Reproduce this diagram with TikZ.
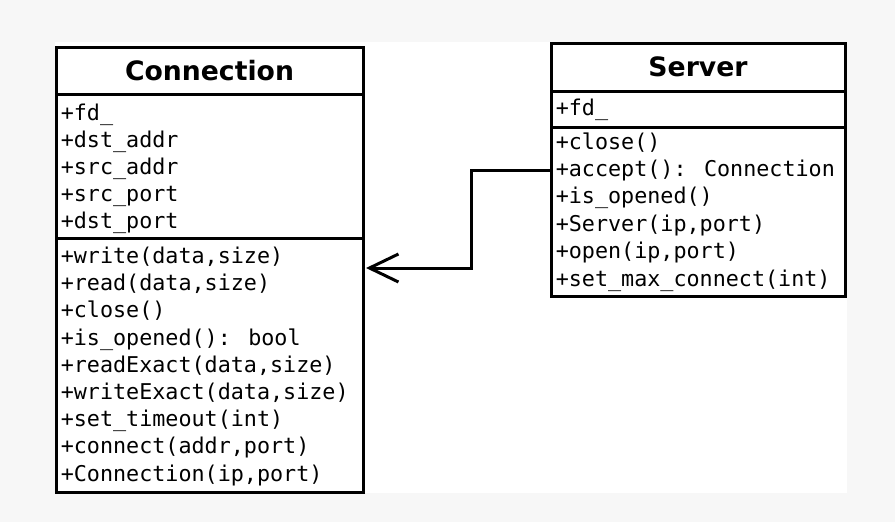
\documentclass[tikz,border=0pt]{standalone}
\usepackage{fontspec}
\setmainfont{DejaVu Sans}
\newfontfamily\monof{DejaVu Sans Mono}
\usetikzlibrary{arrows.meta}
\definecolor{bgc}{HTML}{F7F7F7}
\begin{document}
\begin{tikzpicture}[x=0.75pt,y=-0.75pt,
  box/.style={draw=black, line width=2.25pt, fill=white, rectangle, inner sep=0pt, outer sep=0pt, anchor=north west},
  ttl/.style={font=\fontsize{20}{24}\selectfont\bfseries},
  mem/.style={font=\monof\fontsize{16.3}{20}\selectfont, inner sep=0pt, anchor=base west},
  conn/.style={line width=2.25pt, shorten >=2.25pt, -{Straight Barb[length=21.75pt,width=21pt]}}]
\fill[bgc] (0,0) rectangle (895,522);
\fill[white] (55,42) rectangle (847,493);
\useasboundingbox (0,0) rectangle (895,522);
% Connection class
\node[box, ttl, minimum width=307*0.75pt, minimum height=47*0.75pt] (connTitle) at (56,47) {Connection};
\node[box, minimum width=307*0.75pt, minimum height=144*0.75pt] (connAttr) at (56,94) {};
\node[box, minimum width=307*0.75pt, minimum height=254*0.75pt] (connMeth) at (56,238) {};
\foreach \t [count=\i from 0] in {+fd\_, +dst\_addr, +src\_addr, +src\_port, +dst\_port}
  \node[mem] (ca\i) at (60.5,{120+27.2*\i}) {\t};
\foreach \t [count=\i from 0] in {{+write(data,size)}, {+read(data,size)}, +close(), +is\_opened(): bool, {+readExact(data,size)}, {+writeExact(data,size)}, +set\_timeout(int), {+connect(addr,port)}, {+Connection(ip,port)}}
  \node[mem] (cm\i) at (60.5,{263.5+27.2*\i}) {\t};
% Server class
\node[box, ttl, minimum width=294*0.75pt, minimum height=48*0.75pt] (srvTitle) at (551,43) {Server};
\node[box, minimum width=294*0.75pt, minimum height=36*0.75pt] (srvAttr) at (551,91) {};
\node[box, minimum width=294*0.75pt, minimum height=169*0.75pt] (srvMeth) at (551,127) {};
\node[mem] (sa0) at (555.5,115) {+fd\_};
\foreach \t [count=\i from 0] in {+close(), +accept(): Connection, +is\_opened(), {+Server(ip,port)}, {+open(ip,port)}, +set\_max\_connect(int)}
  \node[mem] (sm\i) at (555.5,{149+27.4*\i}) {\t};
% association
\coordinate (bend) at (471,170);
\draw[conn] (srvMeth.west |- bend) -- (bend) |- (connMeth.east |- 0,268);
\end{tikzpicture}
\end{document}
